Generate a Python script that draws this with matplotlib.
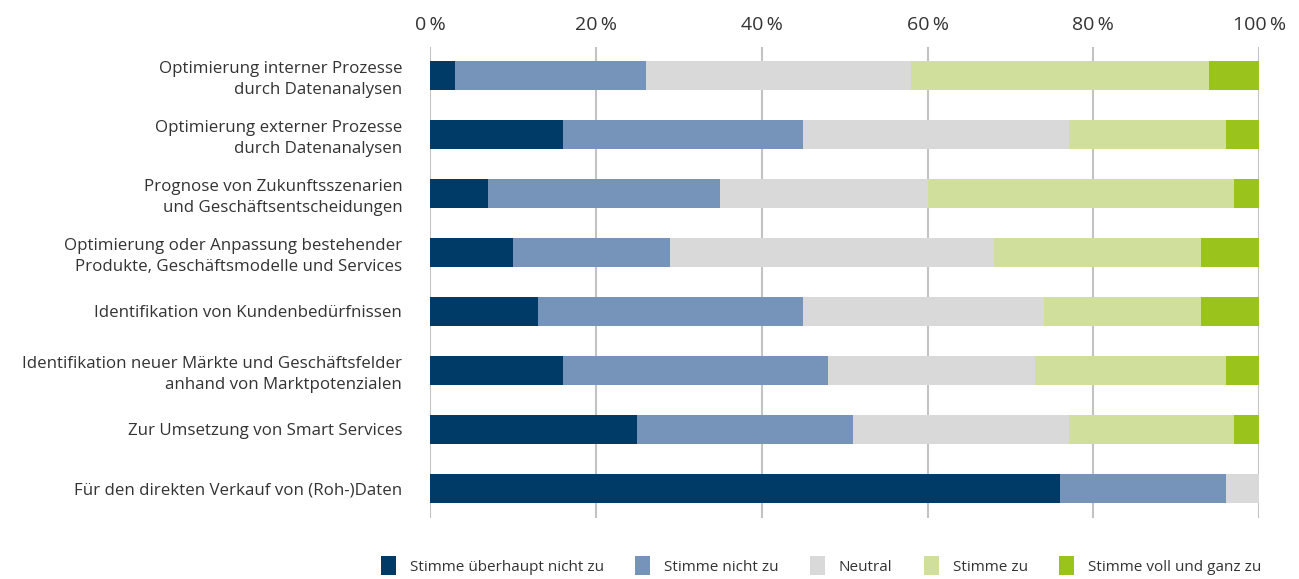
import numpy as np
import matplotlib
matplotlib.use("Agg")
import matplotlib.pyplot as plt
from matplotlib.patches import Patch

plt.rcParams['font.family'] = ['Open Sans', 'DejaVu Sans']

categories = [
    "Optimierung interner Prozesse\ndurch Datenanalysen",
    "Optimierung externer Prozesse\ndurch Datenanalysen",
    "Prognose von Zukunftsszenarien\nund Geschäftsentscheidungen",
    "Optimierung oder Anpassung bestehender\nProdukte, Geschäftsmodelle und Services",
    "Identifikation von Kundenbedürfnissen",
    "Identifikation neuer Märkte und Geschäftsfelder\nanhand von Marktpotenzialen",
    "Zur Umsetzung von Smart Services",
    "Für den direkten Verkauf von (Roh-)Daten",
]

series_names = ["Stimme überhaupt nicht zu", "Stimme nicht zu", "Neutral",
                "Stimme zu", "Stimme voll und ganz zu"]

ueberhaupt_nicht = [3, 16, 7, 10, 13, 16, 25, 76]
nicht_zu = [23, 29, 28, 19, 32, 32, 26, 20]
neutral = [32, 32, 25, 39, 29, 25, 26, 4]
zu = [36, 19, 37, 25, 19, 23, 20, 0]
voll_zu = [6, 4, 3, 7, 7, 4, 3, 0]

colors = ["#003a66", "#7694b9", "#d9d9d9", "#d0e09c", "#9ac31c"]

tick_values = [0, 20, 40, 60, 80, 100]
tick_labels = [f"{v}\u2009%" for v in tick_values]

fig = plt.figure(figsize=(12.99, 5.79), dpi=100)
ax = fig.add_axes([0.3310, 0.1054, 0.6384, 0.8135])

y = np.arange(len(categories))
left = np.zeros(len(categories))
for vals, col, name in zip([ueberhaupt_nicht, nicht_zu, neutral, zu, voll_zu], colors, series_names):
    vals = np.array(vals, dtype=float)
    ax.barh(y, vals, left=left, height=0.49, color=col, label=name, zorder=2)
    left += vals

ax.set_xlim(0, 100)
ax.set_ylim(7.5, -0.483)
ax.set_xticks(tick_values)
ax.set_xticklabels(tick_labels)
ax.xaxis.tick_top()
ax.tick_params(axis='x', length=0, pad=9, labelsize=14, labelcolor="#333333")
ax.set_yticks(y)
ax.set_yticklabels(categories, fontsize=12.2, color="#333333")
ax.tick_params(axis='y', length=0, pad=20)
for lbl in ax.get_yticklabels():
    lbl.set_multialignment('right')
    lbl.set_linespacing(1.4)

ax.grid(axis='x', color="#c3c3c3", linewidth=1.5, zorder=0)
for s in ax.spines.values():
    s.set_visible(False)

handles = [Patch(facecolor=c, label=n) for c, n in zip(colors, series_names)]
fig.legend(handles=handles, loc='center', bbox_to_anchor=(0.632, 0.023), ncol=5,
           frameon=False, fontsize=11, handlelength=1.0, handleheight=1.55,
           handletextpad=0.9, columnspacing=2.05, labelcolor="#333333")

fig.savefig("out.png", dpi=100)
